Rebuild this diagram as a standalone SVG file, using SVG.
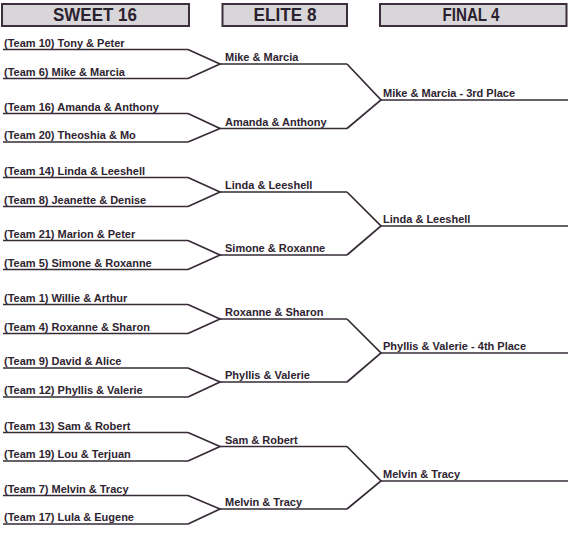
<svg xmlns="http://www.w3.org/2000/svg" width="572" height="533" viewBox="0 0 572 533">
<style>
.hdr rect{fill:#d9d6d9;stroke:#3a2f3a;stroke-width:2}
.hdr text{font-family:"Liberation Sans",Arial,sans-serif;font-weight:bold;font-size:17.5px;fill:#2b2230;text-anchor:middle}
.lbl{font-family:"Liberation Sans",Arial,sans-serif;font-weight:bold;font-size:11px;fill:#2e2430}
.rule{stroke:#362b36;stroke-width:1.7;fill:none}
</style>
<rect width="572" height="533" fill="#ffffff"/>
<g id="hdr-sweet16" class="hdr"><rect x="2" y="4" width="187" height="22"/><text x="95" y="20.5" textLength="84" lengthAdjust="spacingAndGlyphs">SWEET 16</text></g>
<g id="hdr-elite8" class="hdr"><rect x="222.5" y="4" width="124.5" height="22"/><text x="285" y="20.5" textLength="63" lengthAdjust="spacingAndGlyphs">ELITE 8</text></g>
<g id="hdr-final4" class="hdr"><rect x="380" y="4" width="186.5" height="22"/><text x="471" y="20.5" textLength="57" lengthAdjust="spacingAndGlyphs">FINAL 4</text></g>

<g id="s1"><text class="lbl" x="4" y="46.5">(Team 10) Tony &amp; Peter</text><line class="rule" x1="3" y1="49.5" x2="188" y2="49.5"/></g>
<g id="s2"><text class="lbl" x="4" y="75.5">(Team 6) Mike &amp; Marcia</text><line class="rule" x1="3" y1="78.5" x2="188" y2="78.5"/></g>
<g id="s3"><text class="lbl" x="4" y="110.5">(Team 16) Amanda &amp; Anthony</text><line class="rule" x1="3" y1="113.5" x2="188" y2="113.5"/></g>
<g id="s4"><text class="lbl" x="4" y="139">(Team 20) Theoshia &amp; Mo</text><line class="rule" x1="3" y1="142" x2="188" y2="142"/></g>
<g id="s5"><text class="lbl" x="4" y="174.5">(Team 14) Linda &amp; Leeshell</text><line class="rule" x1="3" y1="177.5" x2="188" y2="177.5"/></g>
<g id="s6"><text class="lbl" x="4" y="203.5">(Team 8) Jeanette &amp; Denise</text><line class="rule" x1="3" y1="206.5" x2="188" y2="206.5"/></g>
<g id="s7"><text class="lbl" x="4" y="237.5">(Team 21) Marion &amp; Peter</text><line class="rule" x1="3" y1="240.5" x2="188" y2="240.5"/></g>
<g id="s8"><text class="lbl" x="4" y="266.5">(Team 5) Simone &amp; Roxanne</text><line class="rule" x1="3" y1="269.5" x2="188" y2="269.5"/></g>
<g id="s9"><text class="lbl" x="4" y="301.5">(Team 1) Willie &amp; Arthur</text><line class="rule" x1="3" y1="304.5" x2="188" y2="304.5"/></g>
<g id="s10"><text class="lbl" x="4" y="330.5">(Team 4) Roxanne &amp; Sharon</text><line class="rule" x1="3" y1="333.5" x2="188" y2="333.5"/></g>
<g id="s11"><text class="lbl" x="4" y="365">(Team 9) David &amp; Alice</text><line class="rule" x1="3" y1="368" x2="188" y2="368"/></g>
<g id="s12"><text class="lbl" x="4" y="394">(Team 12) Phyllis &amp; Valerie</text><line class="rule" x1="3" y1="397" x2="188" y2="397"/></g>
<g id="s13"><text class="lbl" x="4" y="429.5">(Team 13) Sam &amp; Robert</text><line class="rule" x1="3" y1="432.5" x2="188" y2="432.5"/></g>
<g id="s14"><text class="lbl" x="4" y="458">(Team 19) Lou &amp; Terjuan</text><line class="rule" x1="3" y1="461" x2="188" y2="461"/></g>
<g id="s15"><text class="lbl" x="4" y="492.5">(Team 7) Melvin &amp; Tracy</text><line class="rule" x1="3" y1="495.5" x2="188" y2="495.5"/></g>
<g id="s16"><text class="lbl" x="4" y="521">(Team 17) Lula &amp; Eugene</text><line class="rule" x1="3" y1="524" x2="188" y2="524"/></g>

<g id="e1"><text class="lbl" x="225" y="61">Mike &amp; Marcia</text><line class="rule" x1="220" y1="64" x2="347" y2="64"/></g>
<g id="e2"><text class="lbl" x="225" y="125.5">Amanda &amp; Anthony</text><line class="rule" x1="220" y1="128.5" x2="347" y2="128.5"/></g>
<g id="e3"><text class="lbl" x="225" y="189">Linda &amp; Leeshell</text><line class="rule" x1="220" y1="192" x2="347" y2="192"/></g>
<g id="e4"><text class="lbl" x="225" y="252">Simone &amp; Roxanne</text><line class="rule" x1="220" y1="255" x2="347" y2="255"/></g>
<g id="e5"><text class="lbl" x="225" y="316">Roxanne &amp; Sharon</text><line class="rule" x1="220" y1="319" x2="347" y2="319"/></g>
<g id="e6"><text class="lbl" x="225" y="379">Phyllis &amp; Valerie</text><line class="rule" x1="220" y1="382" x2="347" y2="382"/></g>
<g id="e7"><text class="lbl" x="225" y="443.5">Sam &amp; Robert</text><line class="rule" x1="220" y1="446.5" x2="347" y2="446.5"/></g>
<g id="e8"><text class="lbl" x="225" y="506">Melvin &amp; Tracy</text><line class="rule" x1="220" y1="509" x2="347" y2="509"/></g>

<g id="f1"><text class="lbl" x="383" y="96.5">Mike &amp; Marcia - 3rd Place</text><line class="rule" x1="381" y1="100" x2="568" y2="100"/></g>
<g id="f2"><text class="lbl" x="383" y="222.5">Linda &amp; Leeshell</text><line class="rule" x1="381" y1="226" x2="568" y2="226"/></g>
<g id="f3"><text class="lbl" x="383" y="349.5">Phyllis &amp; Valerie - 4th Place</text><line class="rule" x1="381" y1="353" x2="568" y2="353"/></g>
<g id="f4"><text class="lbl" x="383" y="477.5">Melvin &amp; Tracy</text><line class="rule" x1="381" y1="481" x2="568" y2="481"/></g>

<g id="connectors" class="rule">
<polyline class="rule" points="188,49.5 220,64 188,78.5"/>
<polyline class="rule" points="188,113.5 220,128.5 188,142"/>
<polyline class="rule" points="188,177.5 220,192 188,206.5"/>
<polyline class="rule" points="188,240.5 220,255 188,269.5"/>
<polyline class="rule" points="188,304.5 220,319 188,333.5"/>
<polyline class="rule" points="188,368 220,382 188,397"/>
<polyline class="rule" points="188,432.5 220,446.5 188,461"/>
<polyline class="rule" points="188,495.5 220,509 188,524"/>
<polyline class="rule" points="347,64 381,100 347,128.5"/>
<polyline class="rule" points="347,192 381,226 347,255"/>
<polyline class="rule" points="347,319 381,353 347,382"/>
<polyline class="rule" points="347,446.5 381,481 347,509"/>
</g>
</svg>
